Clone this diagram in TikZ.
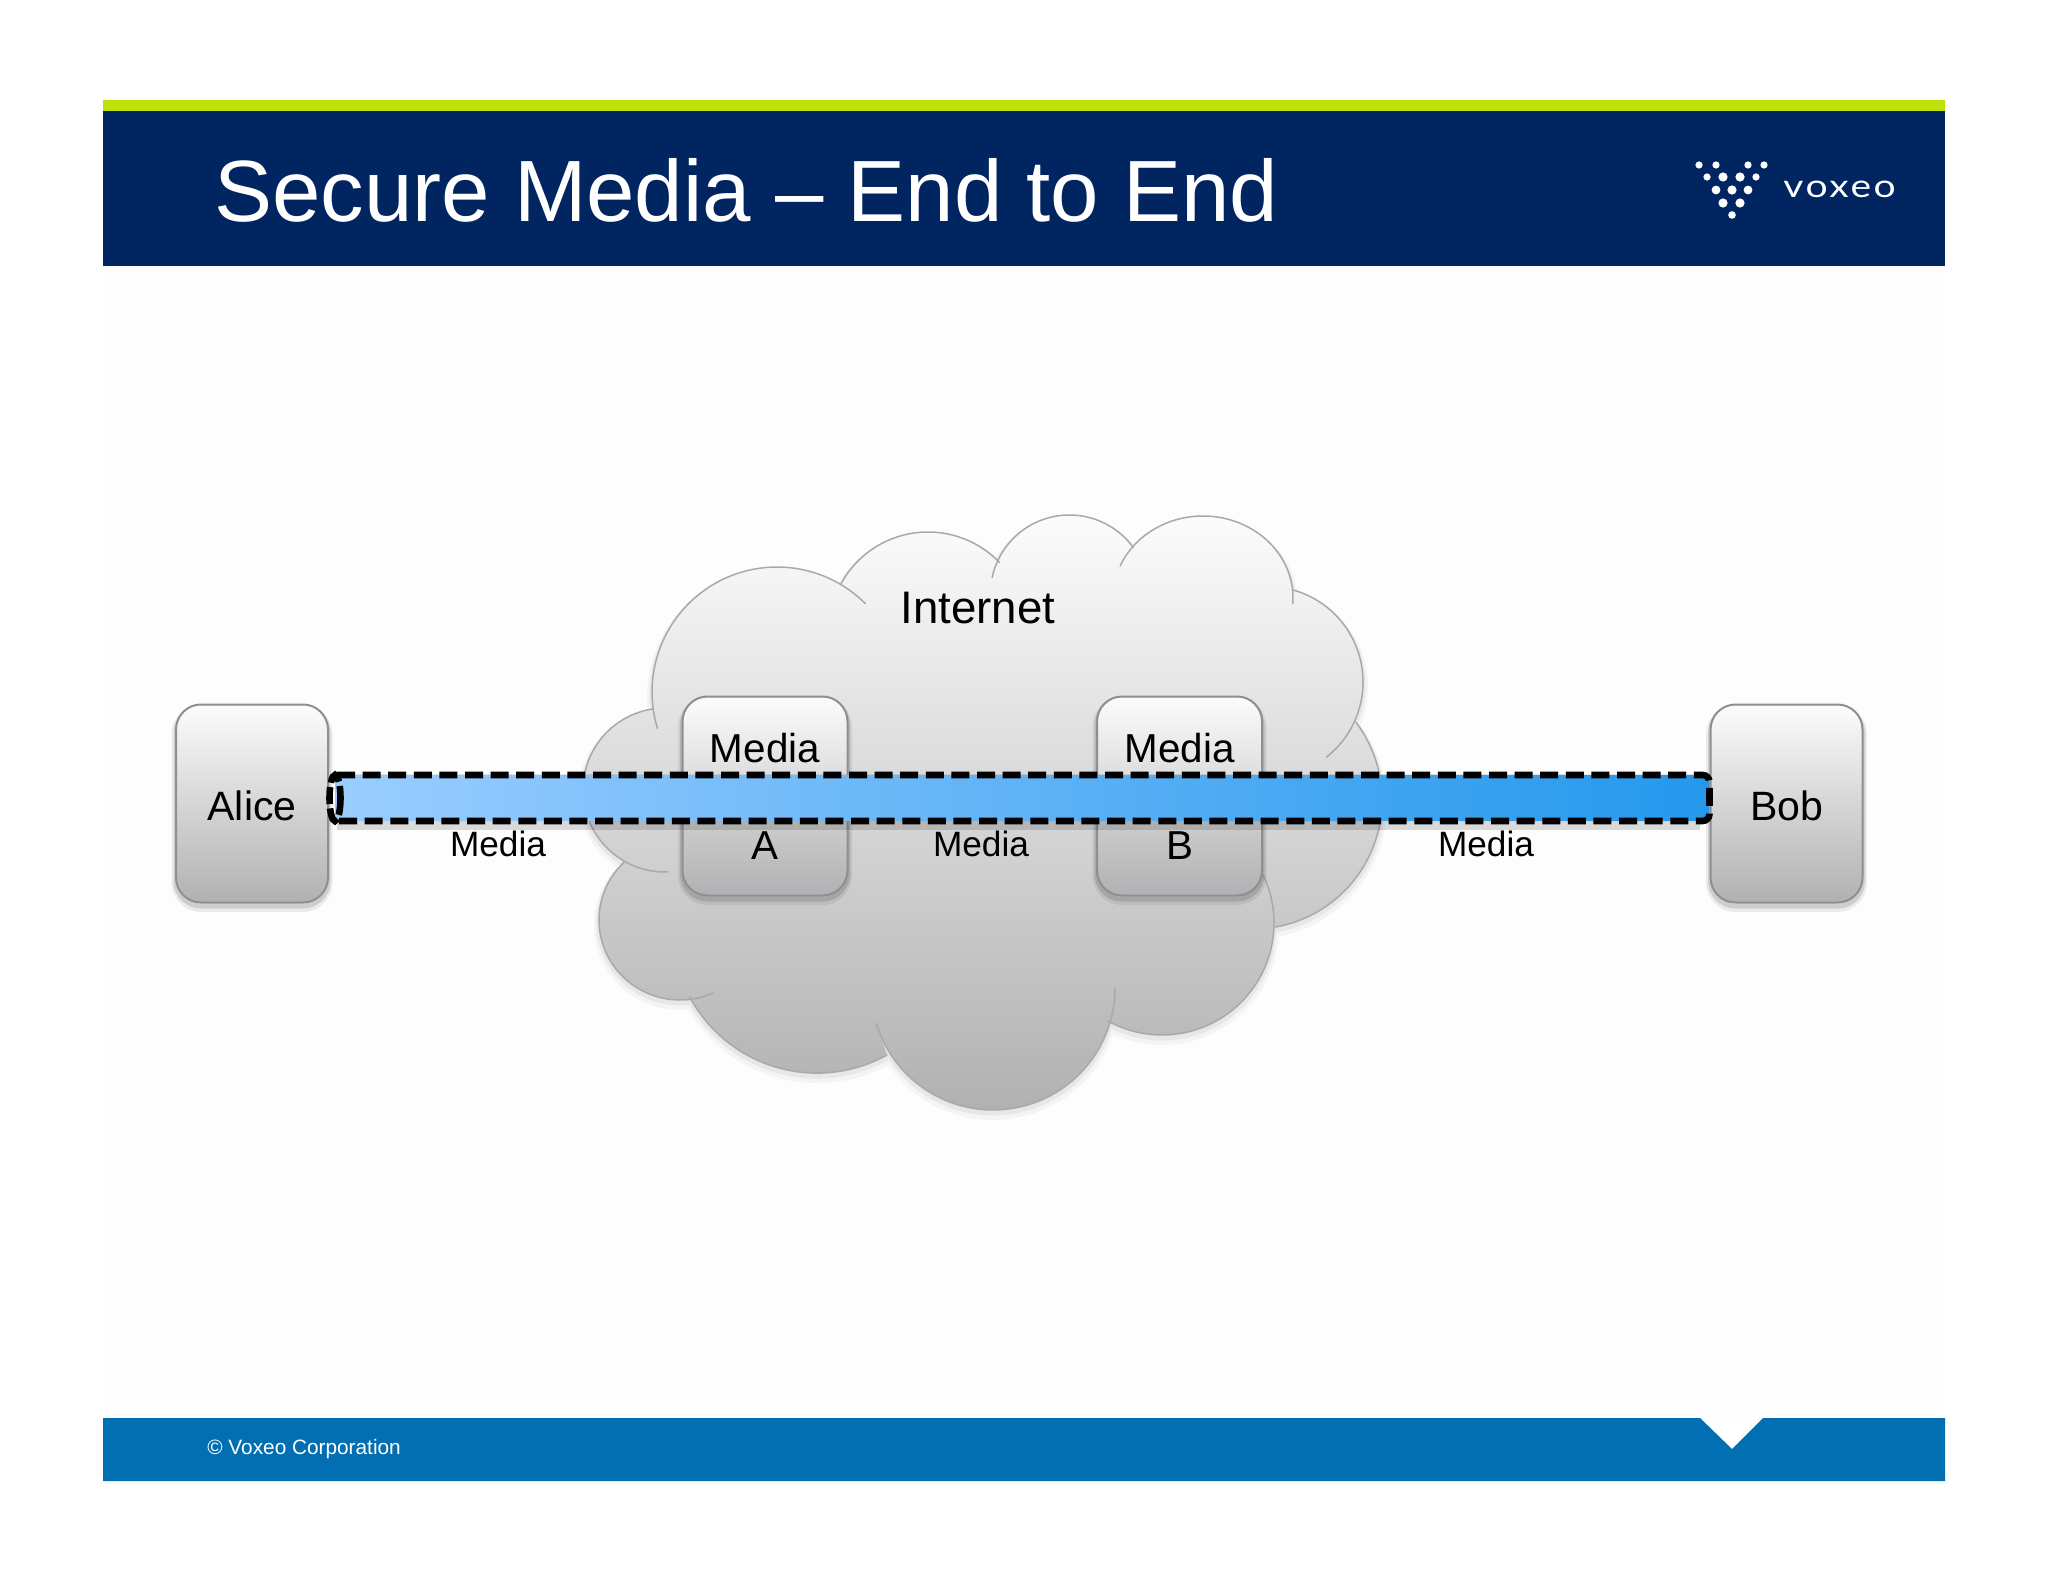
\documentclass[tikz,border=0pt]{standalone}
\usepackage{fontspec}
\setmainfont{Liberation Sans}
\newfontfamily\logofont[FakeStretch=1.22,LetterSpace=8]{Lato}
\definecolor{navy}{HTML}{002561}
\definecolor{lime}{HTML}{BDE20A}
\definecolor{footblue}{HTML}{026FB3}
\definecolor{pagebg}{HTML}{FEFDFE}
\definecolor{boxline}{HTML}{8F8E90}
\definecolor{boxtop}{HTML}{FCFCFC}
\definecolor{boxbot}{HTML}{B1B0B2}
\definecolor{cloudedge}{HTML}{A9A8AA}
\definecolor{tubeL}{HTML}{9ACDFF}
\definecolor{tubeM}{HTML}{70B4F8}
\definecolor{tubeR}{HTML}{2498EC}
\tikzset{
  softbox/.style={shade,top color=boxtop,bottom color=boxbot,draw=boxline,line width=1pt,
    rounded corners=12.5pt,inner sep=0pt,
    preaction={draw=black,draw opacity=.07,line width=4.5pt,transform canvas={yshift=-2.5pt}},
    preaction={draw=black,draw opacity=.12,line width=2.5pt,transform canvas={yshift=-1.8pt}}},
  endbox/.style={softbox,minimum width=76pt,minimum height=99pt,font=\fontsize{20.5}{24}\selectfont,text height=16.5pt,text depth=0pt},
  midbox/.style={softbox,minimum width=82.5pt,minimum height=99.5pt,align=center,font=\fontsize{20.2}{48.5}\selectfont},
  wirelabel/.style={anchor=base,inner sep=0pt,font=\fontsize{17.6}{20}\selectfont},
  cloudline/.style={draw=cloudedge,line width=.75pt},
  tubedash/.style={line width=3.3pt,dash pattern=on 9pt off 3.8pt},
  lobe/.style={samples=60},
}
\def\cloudshape#1{
 plot[domain=163:315,lobe] ({777+125*cos(\x)},{692+125*sin(\x)}) #1
 plot[domain=209:316,lobe] ({928+99*cos(\x)},{631+99*sin(\x)}) #1
 plot[domain=192:324,lobe] ({1069.4+79*cos(\x)},{594+79*sin(\x)}) #1
 plot[domain=203:364,lobe] ({1203+90*cos(\x)},{598+82*sin(\x)}) #1
 plot[domain=285:412,lobe] ({1267.5+95.5*cos(\x)},{682+95.5*sin(\x)}) #1
 plot[domain=323:440,lobe] ({1253+129*cos(\x)},{800+129*sin(\x)}) #1
 plot[domain=-25:119,lobe] ({1162+112*cos(\x)},{923+112*sin(\x)}) #1
 plot[domain=0:163,lobe] ({993+122*cos(\x)},{988+122*sin(\x)}) #1
 plot[domain=61:152,lobe] ({817+144.5*cos(\x)},{928.6+144.5*sin(\x)}) #1
 plot[domain=66:226,lobe] ({680+81*cos(\x)},{920+80*sin(\x)}) #1
 plot[domain=88:261,lobe] ({665+82*cos(\x)},{790+82*sin(\x)})
}
\begin{document}
\begin{tikzpicture}[x=0.5pt,y=-0.5pt]
\path[use as bounding box,fill=white] (0,0) rectangle (2048,1582);
\fill[pagebg] (103,266) rectangle (1945,1418);
% banner
\fill[lime] (103,100) rectangle (1945,111);
\fill[navy] (103,111) rectangle (1945,266);
\node[anchor=base west,inner sep=0pt,text=white,font=\fontsize{43.5}{50}\selectfont] (title) at (214,222) {Secure Media – End to End};
% logo
\foreach \x/\y/\r [count=\i] in {1699/165/3.6,1716/165/3.6,1748/165/3.6,1764/165/3.6,
   1707/177/3.6,1723/177/4.6,1740/177/4.6,1756/177/3.6,
   1716/190/4.4,1732/190/4.6,1748/190/4.4,
   1723/203/4.6,1740/203/4.6,1732/215/3.8}
  \node[circle,fill=white,inner sep=0pt,minimum size=\r pt] (dot\i) at (\x,\y) {};
\node[anchor=base west,inner sep=0pt,text=white,font=\logofont\fontsize{16}{18}\selectfont] (logo) at (1783,198) {voxeo};
% footer
\fill[footblue] (103,1418) -- (1700,1418) -- (1732,1449) -- (1763,1418) -- (1945,1418) -- (1945,1481) -- (103,1481) -- cycle;
\node[anchor=base west,inner sep=0pt,text=white,font=\fontsize{10.4}{13}\selectfont] (copy) at (207,1454) {© Voxeo Corporation};
% cloud
\shade[top color=white!96!boxbot,bottom color=boxbot,
   preaction={draw=black,draw opacity=.035,line width=5pt,transform canvas={yshift=-2.5pt}},
   preaction={draw=black,draw opacity=.05,line width=2.5pt,transform canvas={yshift=-1.5pt}}]
   \cloudshape{--} -- cycle;
\draw[cloudline,line cap=round] \cloudshape{};
\node[anchor=base,inner sep=0pt,font=\fontsize{22.8}{26}\selectfont] (internet) at (978,623) {Internet};
% media boxes
\node[midbox] (mediaA) at (765,796) {Media\\A};
\node[midbox] (mediaB) at (1179.5,796) {Media\\B};
% end boxes
\node[endbox] (alice) at (252,803.5) {Alice};
\node[endbox] (bob) at (1786.5,803.5) {Bob};
% labels
\node[wirelabel] (m1) at (498,856) {Media};
\node[wirelabel] (m2) at (981,856) {Media};
\node[wirelabel] (m3) at (1486,856) {Media};
% tube
\coordinate (tubeNW) at (337,775);
\coordinate (tubeSW) at (337,821);
\coordinate (tubeNE) at (bob.west |- tubeNW);
\coordinate (tubeSE) at (bob.west |- tubeSW);
\begin{scope}[transform canvas={yshift=-2pt}]
  \draw[black,opacity=.10,line width=5pt] (tubeNW) -- (1700,775);
  \draw[black,opacity=.14,line width=5pt] (tubeSW) -- (1700,821);
\end{scope}
\shade[left color=tubeL,middle color=tubeM,right color=tubeR]
   (335,775) [rounded corners=3.5pt] -- (tubeNE) -- (tubeSE) [sharp corners] -- (335,821) -- cycle;
\draw[tubedash,rounded corners=3.5pt] (tubeNW) -- (tubeNE) -- (tubeSE) -- (tubeSW);
\draw[line width=3.3pt,dash pattern=on 8.5pt off 2.2pt] (335,798) ellipse [x radius=5.5,y radius=23];
\end{tikzpicture}
\end{document}
